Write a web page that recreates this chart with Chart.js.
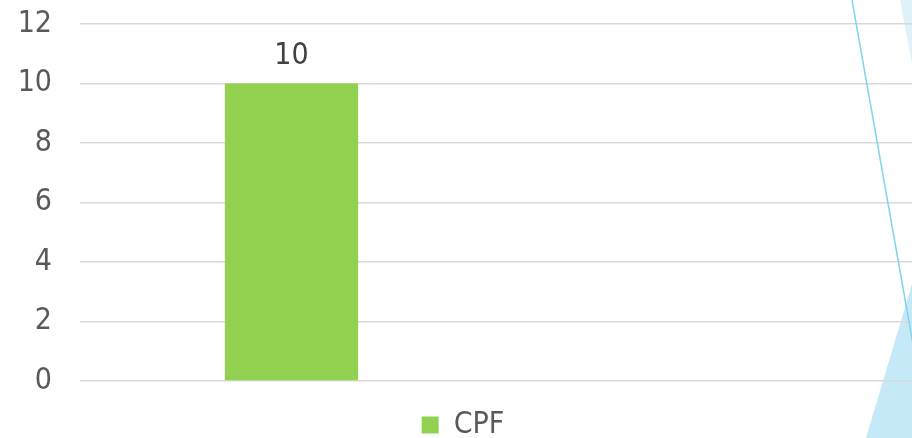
<!DOCTYPE html>
<html>
<head>
<meta charset="utf-8">
<script src="https://cdn.jsdelivr.net/npm/chart.js@4/dist/chart.umd.min.js"></script>
<style>
  html, body { margin: 0; padding: 0; background: #fff; overflow: hidden; }
  #wrap { width: 926px; height: 438px; }
</style>
</head>
<body>
<div id="wrap"><canvas id="bar-chart"></canvas></div>
<script>
var categories = ['', ''];
var seriesName = 'CPF';
var cpfValues = [10, null];
var yTicks = [0, 2, 4, 6, 8, 10, 12];

var fontFamily = '"DejaVu Sans Condensed", "Liberation Sans", sans-serif';

// value label above each bar
var valueLabels = {
    id: 'valueLabels',
    afterDatasetsDraw: function (chart) {
        var ctx = chart.ctx;
        var meta = chart.getDatasetMeta(0);
        ctx.save();
        ctx.fillStyle = '#404040';
        ctx.font = '30px ' + fontFamily;
        ctx.textAlign = 'center';
        ctx.textBaseline = 'alphabetic';
        meta.data.forEach(function (bar, i) {
            var v = chart.data.datasets[0].data[i];
            if (v === null) return;
            ctx.fillText(v, bar.x, bar.y - 20);
        });
        ctx.restore();
    }
};

// slide background decoration on the right edge
var slideDecor = {
    id: 'slideDecor',
    beforeDraw: function (chart) {
        var ctx = chart.ctx;
        ctx.save();
        ctx.fillStyle = '#dff2fa';
        ctx.beginPath();
        ctx.moveTo(900, 0); ctx.lineTo(926, 0); ctx.lineTo(926, 138); ctx.closePath();
        ctx.fill();
        ctx.fillStyle = '#c5e9f7';
        ctx.beginPath();
        ctx.moveTo(866, 438); ctx.lineTo(915, 274); ctx.lineTo(926, 274); ctx.lineTo(926, 438); ctx.closePath();
        ctx.fill();
        ctx.restore();
    },
    afterDraw: function (chart) {
        var ctx = chart.ctx;
        ctx.save();
        ctx.strokeStyle = '#7fd4ee';
        ctx.lineWidth = 1.5;
        ctx.beginPath();
        ctx.moveTo(852, 0); ctx.lineTo(914, 350);
        ctx.stroke();
        ctx.restore();
    }
};

var barConfig = {
    type: 'bar',
    data: {
        labels: categories,
        datasets: [{
            label: seriesName,
            backgroundColor: '#92d050',
            borderWidth: 0,
            data: cpfValues,
            barPercentage: 0.315,
            categoryPercentage: 1.0
        }]
    },
    options: {
        responsive: false,
        animation: false,
        layout: { padding: { top: 0, left: 0, right: 0, bottom: -12 } },
        plugins: {
            legend: {
                position: 'bottom',
                labels: {
                    boxWidth: 17,
                    boxHeight: 17,
                    padding: 10,
                    color: '#595959',
                    font: { size: 30, family: fontFamily }
                }
            },
            tooltip: { enabled: false }
        },
        scales: {
            x: {
                grid: { display: false },
                border: { display: false },
                ticks: { display: false },
                afterFit: function (axis) { axis.height = 19; }
            },
            y: {
                min: 0,
                max: 12,
                afterBuildTicks: function (axis) {
                    axis.ticks = yTicks.map(function (v) { return { value: v }; });
                },
                afterFit: function (axis) {
                    axis.width = 80;
                    axis.paddingTop = 24;
                },
                grid: { color: '#d9d9d9', lineWidth: 1.5, drawTicks: false },
                border: { display: false },
                ticks: {
                    padding: 28,
                    color: '#595959',
                    font: { size: 30, family: fontFamily }
                }
            }
        }
    },
    plugins: [valueLabels, slideDecor]
};

var canvas = document.getElementById('bar-chart');
canvas.width = 926;
canvas.height = 438;
window.myBar = new Chart(canvas.getContext('2d'), barConfig);
</script>
</body>
</html>
